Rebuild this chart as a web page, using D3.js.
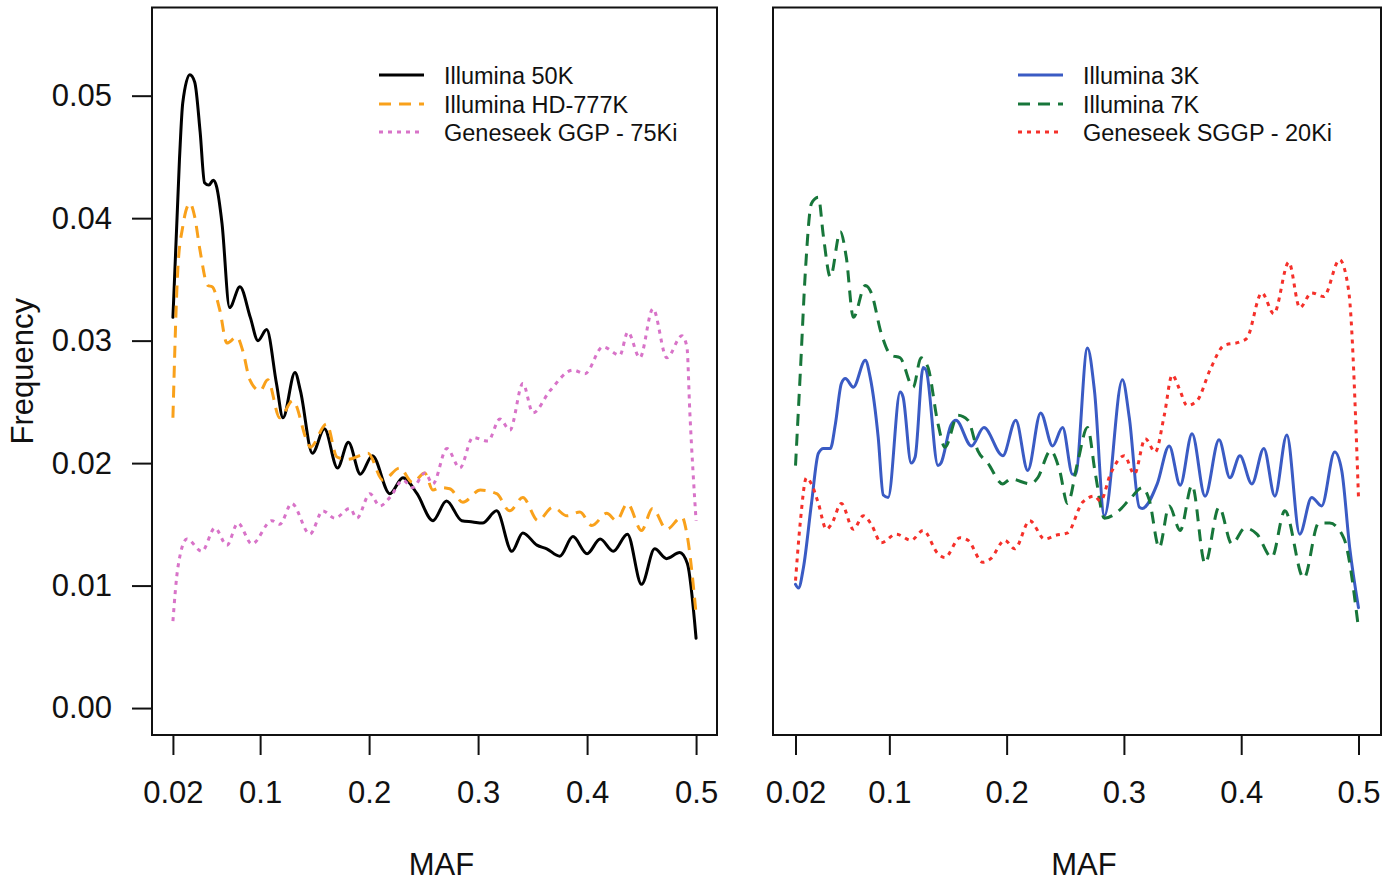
<!DOCTYPE html>
<html>
<head>
<meta charset="utf-8">
<script src="https://cdn.jsdelivr.net/npm/d3@7"></script>
<style>
  html, body { margin: 0; padding: 0; background: #fff; }
  svg { display: block; font-family: "Liberation Sans", Arial, Helvetica, sans-serif; }
</style>
</head>
<body>
<svg id="chart" width="1393" height="884"></svg>
<script>
// MAF density curves, [maf, frequency] pairs
const illumina50K = [[0.020,0.0319],[0.026,0.0448],[0.029,0.0494],[0.0355,0.0517],[0.040,0.0511],[0.045,0.047],[0.049,0.0429],[0.053,0.0427],[0.057,0.0431],[0.060,0.0426],[0.065,0.0396],[0.072,0.0327],[0.0815,0.0344],[0.091,0.0319],[0.098,0.030],[0.106,0.0309],[0.115,0.0265],[0.121,0.0237],[0.132,0.0274],[0.137,0.0259],[0.148,0.0208],[0.159,0.0228],[0.171,0.0196],[0.181,0.0217],[0.192,0.0191],[0.203,0.0206],[0.219,0.0175],[0.231,0.0188],[0.244,0.0175],[0.2585,0.0153],[0.271,0.0169],[0.285,0.0153],[0.295,0.0152],[0.304,0.0151],[0.317,0.0161],[0.331,0.0128],[0.341,0.0143],[0.354,0.0133],[0.363,0.013],[0.375,0.0124],[0.387,0.014],[0.400,0.0126],[0.412,0.0138],[0.424,0.0128],[0.437,0.0142],[0.450,0.0101],[0.462,0.013],[0.473,0.0122],[0.485,0.0127],[0.492,0.0118],[0.500,0.0057]];

const illuminaHD777K = [[0.020,0.0237],[0.0246,0.036],[0.029,0.0393],[0.0356,0.0412],[0.040,0.0401],[0.0448,0.0374],[0.052,0.0345],[0.056,0.0344],[0.063,0.0325],[0.0695,0.0298],[0.0787,0.0303],[0.084,0.0292],[0.0906,0.0268],[0.100,0.0259],[0.107,0.0268],[0.118,0.0237],[0.130,0.0251],[0.143,0.0218],[0.146,0.0213],[0.161,0.0232],[0.1705,0.0205],[0.180,0.0203],[0.199,0.0208],[0.2127,0.0186],[0.228,0.0196],[0.240,0.0184],[0.251,0.0192],[0.2585,0.0178],[0.265,0.018],[0.274,0.0179],[0.286,0.0168],[0.302,0.0178],[0.317,0.0175],[0.329,0.0161],[0.341,0.0172],[0.355,0.0153],[0.3686,0.0164],[0.3815,0.0157],[0.3934,0.016],[0.4044,0.0149],[0.418,0.0159],[0.427,0.0153],[0.437,0.0167],[0.450,0.0145],[0.460,0.0163],[0.473,0.0146],[0.487,0.0156],[0.4916,0.0142],[0.500,0.0077]];

const geneseekGGP75Ki = [[0.020,0.0071],[0.0246,0.0115],[0.0328,0.0138],[0.0466,0.0128],[0.0585,0.0147],[0.0695,0.0133],[0.0796,0.0151],[0.0925,0.0134],[0.1108,0.0153],[0.118,0.015],[0.129,0.0167],[0.1457,0.0142],[0.1576,0.0161],[0.1686,0.0155],[0.1824,0.0163],[0.1888,0.0155],[0.2007,0.0175],[0.2099,0.0165],[0.2191,0.0172],[0.231,0.0186],[0.240,0.018],[0.2512,0.0192],[0.2585,0.0183],[0.2714,0.0212],[0.2833,0.0196],[0.2952,0.0221],[0.309,0.0218],[0.320,0.0236],[0.3292,0.0227],[0.3411,0.0265],[0.3503,0.0241],[0.3659,0.0259],[0.387,0.0276],[0.398,0.0273],[0.4145,0.0295],[0.430,0.0288],[0.4374,0.0307],[0.4484,0.0286],[0.4604,0.0326],[0.4732,0.0286],[0.487,0.0304],[0.4916,0.0295],[0.4943,0.0241],[0.500,0.0153]];

const illumina3K = [[0.020,0.0101],[0.0225,0.0098],[0.0268,0.0115],[0.0336,0.0167],[0.0395,0.0208],[0.0438,0.0212],[0.0497,0.0212],[0.054,0.0232],[0.0591,0.0265],[0.0625,0.0269],[0.0693,0.0262],[0.0795,0.0284],[0.0837,0.027],[0.0905,0.0221],[0.0948,0.0174],[0.099,0.0172],[0.1092,0.0258],[0.1117,0.0254],[0.1186,0.020],[0.122,0.0205],[0.1288,0.0278],[0.1313,0.0276],[0.1415,0.0198],[0.144,0.020],[0.1525,0.0231],[0.1568,0.0235],[0.170,0.0214],[0.1806,0.0229],[0.1967,0.0206],[0.2078,0.0235],[0.218,0.0194],[0.229,0.0241],[0.2392,0.0214],[0.2477,0.0229],[0.2562,0.0191],[0.2587,0.0191],[0.2689,0.0294],[0.2749,0.0259],[0.2834,0.0157],[0.2987,0.0268],[0.3046,0.0237],[0.3131,0.0164],[0.3157,0.0163],[0.3284,0.0183],[0.3386,0.0214],[0.348,0.0182],[0.3581,0.0224],[0.3692,0.0173],[0.3811,0.0219],[0.3904,0.0188],[0.3989,0.0206],[0.4091,0.0183],[0.4193,0.0212],[0.4287,0.0173],[0.4389,0.0223],[0.4499,0.0142],[0.4601,0.0172],[0.4686,0.0165],[0.4797,0.0209],[0.4857,0.0194],[0.4925,0.0131],[0.500,0.0082]];

const illumina7K = [[0.020,0.0198],[0.0242,0.0276],[0.0285,0.0358],[0.0336,0.0412],[0.0395,0.0417],[0.0438,0.0385],[0.0497,0.0352],[0.0582,0.0389],[0.0633,0.0368],[0.0693,0.0319],[0.0795,0.0345],[0.0846,0.0339],[0.0931,0.0306],[0.1016,0.0288],[0.1092,0.0286],[0.1203,0.0262],[0.127,0.0286],[0.133,0.0278],[0.1415,0.0232],[0.1474,0.0213],[0.1585,0.0239],[0.167,0.0235],[0.1755,0.021],[0.184,0.020],[0.1967,0.0183],[0.2035,0.0187],[0.2205,0.0183],[0.2265,0.0188],[0.2375,0.021],[0.2452,0.0194],[0.2519,0.0167],[0.2604,0.020],[0.2689,0.0229],[0.2757,0.0191],[0.2834,0.0155],[0.2944,0.016],[0.3055,0.0171],[0.3157,0.018],[0.3216,0.017],[0.3301,0.0131],[0.3386,0.0165],[0.348,0.0145],[0.3581,0.0182],[0.3692,0.0118],[0.3811,0.0164],[0.3921,0.0134],[0.4032,0.0147],[0.4134,0.0142],[0.4261,0.0123],[0.4372,0.0161],[0.4534,0.0106],[0.4661,0.0151],[0.4755,0.0151],[0.4874,0.0139],[0.500,0.0065]];

const geneseekSGGP20Ki = [[0.020,0.0104],[0.0242,0.0153],[0.0293,0.0188],[0.0336,0.0183],[0.0395,0.0167],[0.0463,0.0146],[0.0506,0.015],[0.0591,0.0167],[0.0693,0.0146],[0.0778,0.0157],[0.0846,0.015],[0.0931,0.0135],[0.1058,0.0142],[0.1186,0.0137],[0.1288,0.0145],[0.1415,0.0126],[0.1474,0.0123],[0.1602,0.0139],[0.167,0.0137],[0.1797,0.0119],[0.1865,0.0122],[0.1984,0.0137],[0.2069,0.013],[0.2197,0.0153],[0.2324,0.0138],[0.2418,0.0141],[0.2519,0.0143],[0.2647,0.0168],[0.2749,0.0173],[0.280,0.0169],[0.2885,0.0191],[0.3004,0.0206],[0.3089,0.0191],[0.3182,0.022],[0.3267,0.0209],[0.3344,0.0239],[0.3412,0.0272],[0.3471,0.0261],[0.3539,0.0247],[0.3624,0.0251],[0.3734,0.0276],[0.3853,0.0296],[0.3989,0.0299],[0.4049,0.0302],[0.4176,0.0339],[0.4278,0.0322],[0.4406,0.0364],[0.4499,0.0327],[0.4601,0.0339],[0.4703,0.0336],[0.4839,0.0366],[0.4916,0.0341],[0.500,0.0172]];

// axis ticks and labels
const xTicks = [0.02, 0.1, 0.2, 0.3, 0.4, 0.5];
const xTickLabels = ["0.02", "0.1", "0.2", "0.3", "0.4", "0.5"];
const yTicks = [0, 0.01, 0.02, 0.03, 0.04, 0.05];
const yTickLabels = ["0.00", "0.01", "0.02", "0.03", "0.04", "0.05"];

const leftNames = ["Illumina 50K", "Illumina HD-777K", "Geneseek GGP - 75Ki"];
const rightNames = ["Illumina 3K", "Illumina 7K", "Geneseek SGGP - 20Ki"];

const svg = d3.select("#chart");
const axisFont = 31;

// R-style 4% axis expansion around [0.02, 0.5] and [0, 0.055]
const xDomain = [0.02 - 0.0192, 0.5 + 0.0192];
const yDomain = [0 - 0.0022, 0.055 + 0.0022];
const plotTop = 7.5, plotBottom = 735;

const y = d3.scaleLinear().domain(yDomain).range([plotBottom, plotTop]);

function panel(left, right, series, names, legendX, showY) {
  const x = d3.scaleLinear().domain(xDomain).range([left, right]);
  const g = svg.append("g");

  const line = d3.line()
    .x(d => x(d[0]))
    .y(d => y(d[1]))
    .curve(d3.curveMonotoneX);

  series.forEach(s => {
    g.append("path")
      .datum(s.data)
      .attr("d", line)
      .attr("fill", "none")
      .attr("stroke", s.color)
      .attr("stroke-width", 3)
      .attr("stroke-dasharray", s.dash)
      .attr("stroke-linejoin", "round")
      .attr("stroke-linecap", s.dash ? "butt" : "round");
  });

  // frame
  g.append("rect")
    .attr("x", left).attr("y", plotTop)
    .attr("width", right - left).attr("height", plotBottom - plotTop)
    .attr("fill", "none").attr("stroke", "#111").attr("stroke-width", 2);

  // x axis
  const xAxis = d3.axisBottom(x)
    .tickValues(xTicks)
    .tickFormat((d, i) => xTickLabels[i])
    .tickSize(20)
    .tickPadding(26);
  const xg = g.append("g").attr("transform", `translate(0,${plotBottom})`).call(xAxis);
  xg.select(".domain").remove();
  xg.selectAll(".tick line").attr("stroke", "#111").attr("stroke-width", 2);
  xg.selectAll(".tick text").attr("font-size", axisFont).attr("fill", "#111")
    .attr("font-family", "'Liberation Sans', Arial, sans-serif");

  g.append("text")
    .attr("x", (left + right) / 2 + 7)
    .attr("y", 875)
    .attr("text-anchor", "middle")
    .attr("font-size", axisFont)
    .attr("fill", "#111")
    .text("MAF");

  if (showY) {
    const yAxis = d3.axisLeft(y)
      .tickValues(yTicks)
      .tickFormat((d, i) => yTickLabels[i])
      .tickSize(20)
      .tickPadding(20);
    const yg = g.append("g").attr("transform", `translate(${left},0)`).call(yAxis);
    yg.select(".domain").remove();
    yg.selectAll(".tick line").attr("stroke", "#111").attr("stroke-width", 2);
    yg.selectAll(".tick text").attr("font-size", axisFont).attr("fill", "#111")
      .attr("font-family", "'Liberation Sans', Arial, sans-serif");

    g.append("text")
      .attr("transform", `translate(33,${(plotTop + plotBottom) / 2}) rotate(-90)`)
      .attr("text-anchor", "middle")
      .attr("font-size", axisFont)
      .attr("fill", "#111")
      .text("Frequency");
  }

  // legend
  const rows = [75, 104, 132];
  series.forEach((s, i) => {
    g.append("line")
      .attr("x1", legendX).attr("x2", legendX + 45)
      .attr("y1", rows[i]).attr("y2", rows[i])
      .attr("stroke", s.color).attr("stroke-width", 3)
      .attr("stroke-dasharray", s.dash);
    g.append("text")
      .attr("x", legendX + 65).attr("y", rows[i] + 8.5)
      .attr("font-size", 23.5)
      .attr("fill", "#111")
      .text(names[i]);
  });
}

panel(152, 717, [
  { data: illumina50K, color: "#000000", dash: null },
  { data: illuminaHD777K, color: "#F9A11B", dash: "12,8" },
  { data: geneseekGGP75Ki, color: "#D873C8", dash: "4,5" }
], leftNames, 379, true);

panel(773, 1381, [
  { data: illumina3K, color: "#3A5BC4", dash: null },
  { data: illumina7K, color: "#17763A", dash: "12,8" },
  { data: geneseekSGGP20Ki, color: "#F5302A", dash: "4,5" }
], rightNames, 1018, false);
</script>
</body>
</html>
